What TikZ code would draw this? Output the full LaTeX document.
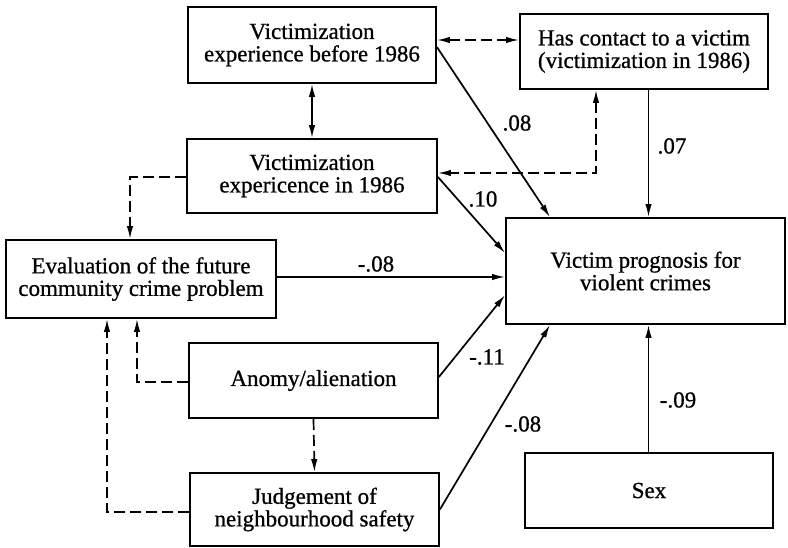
\documentclass[tikz,border=0pt]{standalone}
\usepackage{fontspec}
\setmainfont[FakeBold=0.8]{Liberation Serif}
\usetikzlibrary{arrows.meta,calc}
\begin{document}
\begin{tikzpicture}[x=1pt,y=-1pt,
  box/.style={draw, line width=1.8pt, inner sep=0pt, align=center,
    font=\fontsize{23}{22.5}\selectfont},
  link/.style={line width=1.7pt, -{Latex[length=13pt,width=6.5pt]}},
  twoway/.style={line width=1.7pt, {Latex[length=13pt,width=6.5pt]}-{Latex[length=13pt,width=6.5pt]}},
  dashlink/.style={link, dash pattern=on 11pt off 5pt},
  dashtwoway/.style={twoway, dash pattern=on 11pt off 5pt},
  coef/.style={font=\fontsize{23}{22.5}\selectfont, inner sep=0pt}]
\useasboundingbox (0,0) rectangle (788,548);

% boxes (centres and sizes in pixel units)
\node[box, minimum width=248pt, minimum height=76pt] (before) at (312,45)
  {Victimization\\experience before 1986};
\node[box, minimum width=248pt, minimum height=75pt] (contact) at (644,51.5)
  {Has contact to a victim\\(victimization in 1986)};
\node[box, minimum width=250pt, minimum height=74pt] (in86) at (312,176)
  {Victimization\\expericence in 1986};
\node[box, minimum width=270pt, minimum height=78pt] (eval) at (141,279)
  {Evaluation of the future\\community crime problem};
\node[box, minimum width=279pt, minimum height=106pt] (victim) at (645.5,271)
  {Victim prognosis for\\violent crimes};
\node[box, minimum width=249pt, minimum height=75pt] (anomy) at (313.5,380.5)
  {Anomy/alienation};
\node[box, minimum width=249pt, minimum height=73pt] (judge) at (314.5,509.5)
  {Judgement of\\neighbourhood safety};
\node[box, minimum width=248pt, minimum height=75pt] (sex) at (649,490.5)
  {Sex};

% anchor points on the box edges
\coordinate (vtopA) at ([xshift=-95.5pt]victim.north);
\coordinate (vbotA) at ([xshift=-95.5pt]victim.south);
\coordinate (vtopB) at ([xshift=3pt]victim.north);
\coordinate (vbotB) at ([xshift=3pt]victim.south);

% correlations (dashed)
\draw[twoway] (before.south) -- (in86.north);
\draw[dashtwoway] ([yshift=5pt]before.east) -- ([yshift=5pt]before.east -| contact.west);
\draw[dashtwoway] ([xshift=-48pt]contact.south) |- ([yshift=3pt]in86.east);
\draw[dashlink] ([yshift=-1pt]in86.west) -| ([xshift=-11pt]eval.north);
\draw[dashlink] ([yshift=-1.5pt]anomy.west) -| ([xshift=-4pt]eval.south);
\draw[dashlink] ([yshift=-2.5pt]judge.west) -| ([xshift=-34pt]eval.south);
\draw[dashlink] (anomy.south) -- (judge.north);

% path coefficients
\draw[link] ([yshift=-2pt]before.east) -- (vtopA);
\draw[link] (vtopB |- contact.south) -- (vtopB);
\draw[link] ([yshift=-1pt]in86.east) -- ([yshift=18pt]victim.west);
\draw[link] ([yshift=2pt]eval.east) -- ([yshift=2pt]eval.east -| victim.west);
\draw[link] ([yshift=3.5pt]anomy.east) -- ([yshift=-24pt]victim.west);
\draw[link] (judge.east) -- (vbotA);
\draw[link] (vbotB |- sex.north) -- (vbotB);

\node[coef] (c1) at (517,123) {.08};
\node[coef] (c2) at (672,146) {.07};
\node[coef] (c3) at (483,199) {.10};
\node[coef] (c4) at (376,264) {-.08};
\node[coef] (c5) at (487,357) {-.11};
\node[coef] (c6) at (523,424) {-.08};
\node[coef] (c7) at (678,400) {-.09};
\end{tikzpicture}
\end{document}
